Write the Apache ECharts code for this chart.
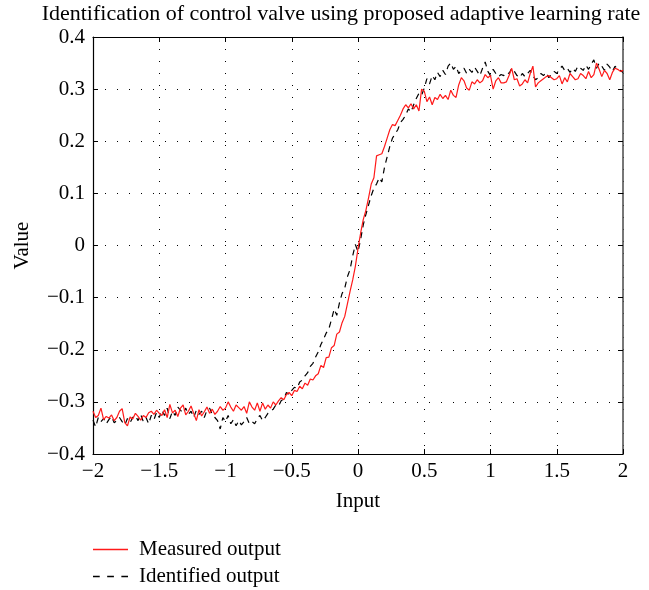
<!DOCTYPE html>
<html>
<head>
<meta charset="utf-8">
<script src="https://cdn.jsdelivr.net/npm/echarts@6/dist/echarts.min.js"></script>
<style>html,body{margin:0;padding:0;background:#fff}#c{width:649px;height:590px}</style>
</head>
<body>
<div id="c"></div>
<script>
// Input grid: -2 to 2 in steps of 0.02 (201 samples)
const xStart = -2, xStep = 0.02, nSamples = 201;
const xTicks = [-2, -1.5, -1, -0.5, 0, 0.5, 1, 1.5, 2];
const yTicks = [-0.4, -0.3, -0.2, -0.1, 0, 0.1, 0.2, 0.3, 0.4];
const seriesNames = ['Measured output', 'Identified output'];

const measured = [
-0.318,-0.330,-0.326,-0.312,-0.334,-0.328,-0.331,-0.325,-0.336,-0.330,
-0.318,-0.313,-0.340,-0.346,-0.329,-0.333,-0.322,-0.328,-0.335,-0.326,
-0.330,-0.321,-0.318,-0.324,-0.316,-0.322,-0.326,-0.315,-0.330,-0.305,
-0.321,-0.316,-0.328,-0.312,-0.306,-0.325,-0.318,-0.308,-0.322,-0.336,
-0.315,-0.327,-0.319,-0.310,-0.322,-0.314,-0.324,-0.318,-0.309,-0.316,
-0.312,-0.300,-0.310,-0.318,-0.306,-0.311,-0.316,-0.309,-0.322,-0.300,
-0.310,-0.316,-0.302,-0.318,-0.302,-0.314,-0.306,-0.312,-0.300,-0.306,
-0.298,-0.292,-0.296,-0.286,-0.282,-0.288,-0.278,-0.280,-0.270,-0.275,
-0.264,-0.268,-0.256,-0.258,-0.250,-0.246,-0.230,-0.234,-0.215,-0.214,
-0.196,-0.192,-0.170,-0.166,-0.148,-0.136,-0.112,-0.088,-0.066,-0.040,
-0.006,0.024,0.050,0.068,0.092,0.118,0.130,0.172,0.174,0.176,
0.190,0.206,0.222,0.232,0.230,0.240,0.250,0.262,0.270,0.264,
0.272,0.262,0.270,0.258,0.300,0.296,0.276,0.285,0.270,0.284,
0.280,0.290,0.282,0.288,0.280,0.298,0.288,0.284,0.308,0.322,
0.316,0.302,0.298,0.314,0.310,0.318,0.312,0.316,0.328,0.322,
0.326,0.300,0.316,0.322,0.312,0.312,0.314,0.326,0.340,0.318,
0.320,0.306,0.310,0.318,0.312,0.330,0.344,0.304,0.312,0.316,
0.320,0.324,0.326,0.322,0.318,0.320,0.326,0.310,0.322,0.314,
0.330,0.324,0.318,0.320,0.330,0.326,0.320,0.334,0.322,0.328,
0.350,0.338,0.324,0.336,0.330,0.318,0.332,0.340,0.338,0.334,
0.336
];

const identified = [
-0.335,-0.348,-0.330,-0.338,-0.332,-0.342,-0.334,-0.328,-0.340,-0.336,
-0.330,-0.338,-0.344,-0.332,-0.340,-0.330,-0.326,-0.336,-0.324,-0.338,
-0.330,-0.342,-0.326,-0.334,-0.320,-0.330,-0.316,-0.326,-0.312,-0.332,
-0.318,-0.326,-0.310,-0.316,-0.322,-0.312,-0.324,-0.318,-0.330,-0.316,
-0.324,-0.318,-0.330,-0.316,-0.312,-0.324,-0.330,-0.336,-0.352,-0.330,
-0.338,-0.326,-0.342,-0.334,-0.346,-0.336,-0.344,-0.338,-0.330,-0.342,
-0.338,-0.342,-0.332,-0.326,-0.336,-0.330,-0.322,-0.318,-0.314,-0.306,
-0.308,-0.298,-0.294,-0.282,-0.286,-0.278,-0.272,-0.274,-0.262,-0.258,
-0.250,-0.244,-0.232,-0.226,-0.214,-0.204,-0.190,-0.180,-0.168,-0.160,
-0.142,-0.122,-0.134,-0.110,-0.092,-0.082,-0.060,-0.046,-0.020,0.002,
-0.012,0.012,0.040,0.060,0.078,0.096,0.110,0.118,0.130,0.122,
0.150,0.170,0.190,0.206,0.214,0.222,0.236,0.242,0.250,0.262,
0.256,0.270,0.282,0.292,0.288,0.302,0.320,0.310,0.326,0.318,
0.332,0.324,0.336,0.328,0.344,0.350,0.338,0.344,0.330,0.336,
0.340,0.330,0.338,0.332,0.342,0.334,0.326,0.340,0.352,0.334,
0.326,0.338,0.330,0.324,0.328,0.326,0.332,0.330,0.340,0.334,
0.326,0.322,0.330,0.324,0.330,0.336,0.326,0.318,0.322,0.330,
0.326,0.332,0.322,0.328,0.334,0.330,0.338,0.344,0.336,0.340,
0.332,0.340,0.334,0.344,0.340,0.336,0.346,0.338,0.348,0.356,
0.340,0.350,0.344,0.336,0.348,0.342,0.334,0.344,0.338,0.336,
0.332
];

const xs = [];
for (let i = 0; i < nSamples; i++) xs.push(+(xStart + i * xStep).toFixed(2));
const pairs = arr => arr.map((v, i) => [xs[i], v]);

const FONT = '"Liberation Serif", "DejaVu Serif", serif';
const FS = 21;
const fmt = v => {
  const r = Math.round(v * 10) / 10;
  return String(r).replace('-', '\u2212');
};
const gridLine = { show: true, lineStyle: { color: '#000', width: 1, type: [1, 11], dashOffset: 0 } };
const RED = '#ff1a1a';

const chart = echarts.init(document.getElementById('c'), null, { renderer: 'canvas' });
chart.setOption({
  animation: false,
  backgroundColor: '#fff',
  textStyle: { fontFamily: FONT },
  title: {
    text: 'Identification of control valve using proposed adaptive learning rate',
    left: 341, top: 3, textAlign: 'center', padding: 0,
    textStyle: { fontFamily: FONT, fontSize: 22, fontWeight: 'normal', color: '#000' }
  },
  grid: { left: 93, right: 26, top: 37, bottom: 136, containLabel: false },
  legend: {
    orient: 'vertical', left: 93, top: 539, padding: 0,
    itemWidth: 35, itemHeight: 1.4, itemGap: 6,
    data: [
      { name: seriesNames[0], icon: 'path://M0,0H35V1.4H0Z' },
      { name: seriesNames[1], icon: 'path://M0,0H7.5V1.4H0Z M15.8,0H23.3V1.4H15.8Z M31.6,0H39V1.4H31.6Z' }
    ],
    textStyle: { fontFamily: FONT, fontSize: FS, color: '#000', padding: [0, 0, 0, 6] }
  },
  xAxis: [{
    type: 'value', min: xTicks[0], max: xTicks[xTicks.length - 1], interval: 0.5,
    position: 'bottom',
    name: 'Input', nameLocation: 'middle', nameGap: 37,
    nameTextStyle: { fontFamily: FONT, fontSize: FS, color: '#000' },
    axisLine: { show: true, onZero: false, lineStyle: { color: '#000', width: 1.2 } },
    axisTick: { show: true, inside: true, length: 5, lineStyle: { color: '#000' } },
    axisLabel: { fontFamily: FONT, fontSize: FS, color: '#000', margin: 7, formatter: fmt },
    splitLine: gridLine
  }, {
    type: 'value', min: xTicks[0], max: xTicks[xTicks.length - 1], interval: 0.5,
    position: 'top',
    axisLine: { show: true, onZero: false, lineStyle: { color: '#000', width: 1.2 } },
    axisTick: { show: true, inside: true, length: 5, lineStyle: { color: '#000' } },
    axisLabel: { show: false }, splitLine: { show: false }
  }],
  yAxis: [{
    type: 'value', min: yTicks[0], max: yTicks[yTicks.length - 1], interval: 0.1,
    position: 'left',
    name: 'Value', nameLocation: 'middle', nameGap: 60, nameRotate: 90,
    nameTextStyle: { fontFamily: FONT, fontSize: FS, color: '#000' },
    axisLine: { show: true, onZero: false, lineStyle: { color: '#000', width: 1.2 } },
    axisTick: { show: true, inside: true, length: 5, lineStyle: { color: '#000' } },
    axisLabel: { fontFamily: FONT, fontSize: FS, color: '#000', margin: 8, formatter: fmt },
    splitLine: gridLine
  }, {
    type: 'value', min: yTicks[0], max: yTicks[yTicks.length - 1], interval: 0.1,
    position: 'right',
    axisLine: { show: true, onZero: false, lineStyle: { color: '#555', width: 1.6 } },
    axisTick: { show: true, inside: true, length: 5, lineStyle: { color: '#000' } },
    axisLabel: { show: false }, splitLine: { show: false }
  }],
  series: [{
    name: seriesNames[0], type: 'line', data: pairs(measured),
    xAxisIndex: 0, yAxisIndex: 0,
    showSymbol: false, symbol: 'none',
    lineStyle: { color: RED, width: 1.2 }, itemStyle: { color: RED }, z: 3
  }, {
    name: seriesNames[1], type: 'line', data: pairs(identified),
    xAxisIndex: 0, yAxisIndex: 0,
    showSymbol: false, symbol: 'none',
    lineStyle: { color: '#000', width: 1.2, type: [6, 5] }, itemStyle: { color: '#000' }, z: 2
  }]
});
</script>
</body>
</html>
